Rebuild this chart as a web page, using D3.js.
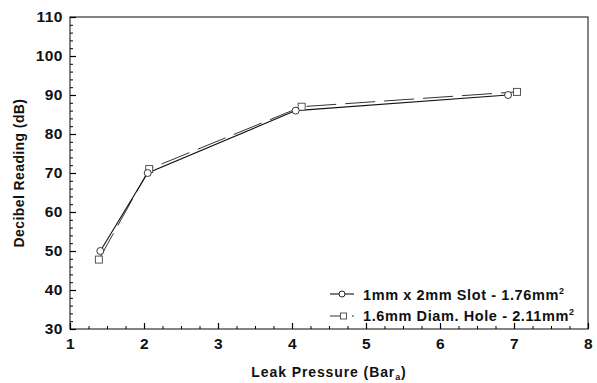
<!DOCTYPE html>
<html>
<head>
<meta charset="utf-8">
<style>
  body { margin: 0; background: #fff; }
  text { font-family: 'Liberation Sans', Arial, sans-serif; font-weight: bold; fill: #111; }
</style>
<script src="https://d3js.org/d3.v7.min.js"></script>
</head>
<body>
<div id="chart"></div>
<script>
// ---- data ----
const slotX = [1.41, 2.05, 4.05, 6.92];
const slotY = [50, 70, 86, 90];
const holeX = [1.39, 2.07, 4.13, 7.04];
const holeY = [47.8, 71, 87, 90.8];
const xTicks = [1, 2, 3, 4, 5, 6, 7, 8];
const yTicks = [30, 40, 50, 60, 70, 80, 90, 100, 110];

const width = 597, height = 383;
const margin = { top: 17, right: 9, bottom: 54, left: 70 };

const svg = d3.select("#chart").append("svg")
  .attr("width", width).attr("height", height);

const x = d3.scaleLinear().domain([1, 8]).range([margin.left, width - margin.right]);
const y = d3.scaleLinear().domain([30, 110]).range([height - margin.bottom, margin.top]);

// frame
svg.append("rect")
  .attr("x", x(1)).attr("y", y(110))
  .attr("width", x(8) - x(1)).attr("height", y(30) - y(110))
  .attr("fill", "none").attr("stroke", "#333").attr("stroke-width", 1.2);

// minor ticks (inside)
const xMinor = d3.range(1, 8.001, 0.25);
const yMinor = d3.range(30, 110.001, 2);
svg.append("g").attr("transform", `translate(0,${y(30)})`)
  .call(d3.axisBottom(x).tickValues(xMinor).tickSize(-3).tickFormat(""))
  .call(g => g.select(".domain").remove());
svg.append("g").attr("transform", `translate(${x(1)},0)`)
  .call(d3.axisLeft(y).tickValues(yMinor).tickSize(-3).tickFormat(""))
  .call(g => g.select(".domain").remove());

// major ticks + labels
const xAxis = svg.append("g").attr("transform", `translate(0,${y(30)})`)
  .call(d3.axisBottom(x).tickValues(xTicks).tickSize(-6).tickPadding(9).tickFormat(d3.format("d")));
xAxis.select(".domain").remove();
xAxis.selectAll("text").style("font-size", "15.5px").style("letter-spacing", "0.5px").attr("fill", "#111");
xAxis.selectAll("line").attr("stroke-width", 1.2);

const yAxis = svg.append("g").attr("transform", `translate(${x(1)},0)`)
  .call(d3.axisLeft(y).tickValues(yTicks).tickSize(-6).tickPadding(7).tickFormat(d3.format("d")));
yAxis.select(".domain").remove();
yAxis.selectAll("text").style("font-size", "15.5px").style("letter-spacing", "0.5px").attr("fill", "#111");
yAxis.selectAll("line").attr("stroke-width", 1.2);

// series
const slot = slotX.map((v, i) => [v, slotY[i]]);
const hole = holeX.map((v, i) => [v, holeY[i]]);
const line = d3.line().x(d => x(d[0])).y(d => y(d[1]));

svg.append("path").datum(hole).attr("d", line)
  .attr("fill", "none").attr("stroke", "#333").attr("stroke-width", 1)
  .attr("stroke-dasharray", "30,9");
svg.append("path").datum(slot).attr("d", line)
  .attr("fill", "none").attr("stroke", "#111").attr("stroke-width", 1.1);

svg.selectAll(".sq").data(hole).enter().append("rect")
  .attr("x", d => x(d[0]) - 3.5).attr("y", d => y(d[1]) - 3.5)
  .attr("width", 7).attr("height", 7)
  .attr("fill", "#fff").attr("stroke", "#444").attr("stroke-width", 0.9);
svg.selectAll(".ci").data(slot).enter().append("circle")
  .attr("cx", d => x(d[0])).attr("cy", d => y(d[1])).attr("r", 3.5)
  .attr("fill", "#fff").attr("stroke", "#222").attr("stroke-width", 0.9);

// legend
const lg = svg.append("g");
lg.append("line").attr("x1", 330).attr("x2", 354).attr("y1", 294).attr("y2", 294)
  .attr("stroke", "#111").attr("stroke-width", 1.1);
lg.append("circle").attr("cx", 342).attr("cy", 294).attr("r", 3)
  .attr("fill", "#fff").attr("stroke", "#222");
lg.append("line").attr("x1", 330).attr("x2", 341).attr("y1", 316).attr("y2", 316)
  .attr("stroke", "#333").attr("stroke-width", 1);
lg.append("line").attr("x1", 352).attr("x2", 354).attr("y1", 316).attr("y2", 316)
  .attr("stroke", "#333").attr("stroke-width", 1);
lg.append("rect").attr("x", 340.5).attr("y", 313).attr("width", 6).attr("height", 6)
  .attr("fill", "#fff").attr("stroke", "#444").attr("stroke-width", 0.9);

const t1 = lg.append("text").attr("x", 363).attr("y", 300)
  .style("font-size", "14.5px").style("letter-spacing", "0.6px");
t1.append("tspan").text("1mm x 2mm Slot - 1.76mm");
t1.append("tspan").attr("dy", -6).style("font-size", "9px").style("letter-spacing", "0").text("2");
const t2 = lg.append("text").attr("x", 363).attr("y", 321)
  .style("font-size", "14.5px").style("letter-spacing", "0.6px");
t2.append("tspan").text("1.6mm Diam. Hole - 2.11mm");
t2.append("tspan").attr("dy", -6).style("font-size", "9px").style("letter-spacing", "0").text("2");

// axis titles
const xt = svg.append("text").attr("x", 329).attr("y", 377)
  .attr("text-anchor", "middle").style("font-size", "14px").style("letter-spacing", "0.9px");
xt.append("tspan").text("Leak Pressure (Bar");
xt.append("tspan").attr("dy", 3).style("font-size", "9px").text("a");
xt.append("tspan").attr("dy", -3).text(")");

svg.append("text")
  .attr("transform", `translate(24,${(y(30) + y(110)) / 2}) rotate(-90)`)
  .attr("text-anchor", "middle").style("font-size", "14px").style("letter-spacing", "0.4px")
  .text("Decibel Reading (dB)");
</script>
</body>
</html>
